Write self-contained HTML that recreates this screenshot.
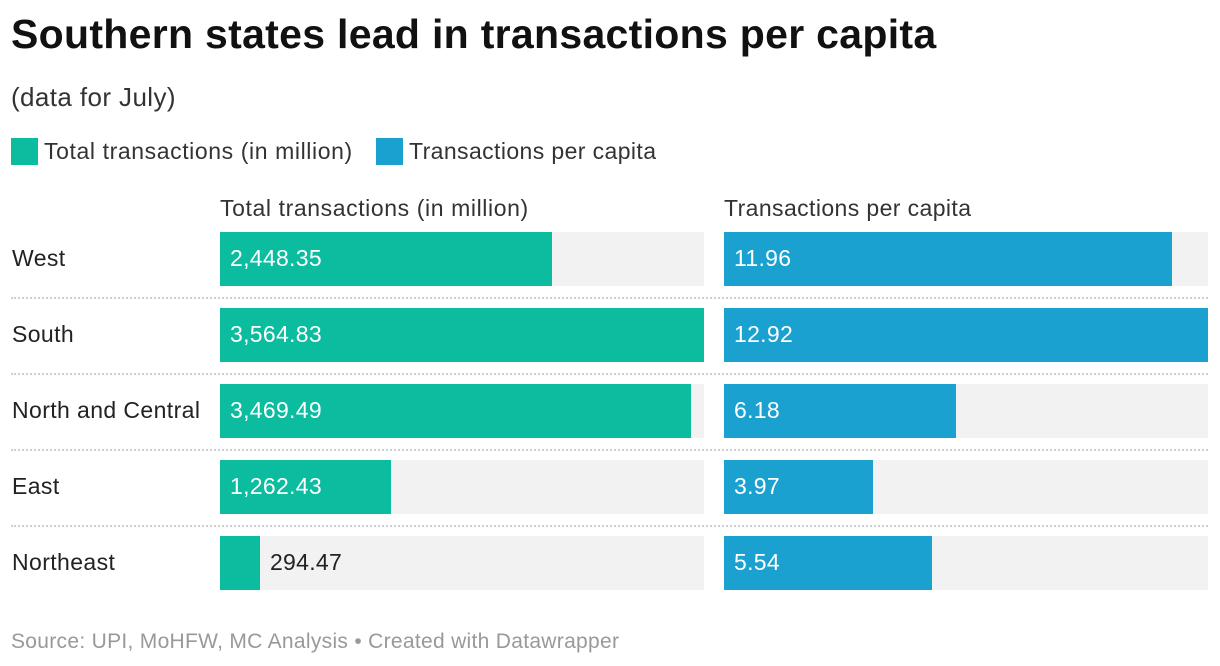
<!DOCTYPE html>
<html><head><meta charset="utf-8"><style>
body{margin:0;width:1220px;height:666px;background:#fff;font-family:"Liberation Sans",sans-serif;position:relative;overflow:hidden;color:#222}
.abs{position:absolute;white-space:nowrap}
</style></head><body>
<div class="abs" style="left:11px;top:11px;font-size:41px;font-weight:bold;color:#111;letter-spacing:0.3px">Southern states lead in transactions per capita</div>
<div class="abs" style="left:11px;top:82px;font-size:26px;color:#333;letter-spacing:0.4px">(data for July)</div>
<div class="abs" style="left:11px;top:138px;font-size:23px;color:#333;letter-spacing:0.6px"><span style="display:inline-block;width:27px;height:27px;background:#0bbc9f;vertical-align:-6px;margin-right:6px"></span>Total transactions (in million)</div>
<div class="abs" style="left:376px;top:138px;font-size:23px;color:#333;letter-spacing:0.4px"><span style="display:inline-block;width:27px;height:27px;background:#1ba1cf;vertical-align:-6px;margin-right:6px"></span>Transactions per capita</div>
<div class="abs" style="left:220px;top:195px;font-size:23px;color:#333;letter-spacing:0.6px">Total transactions (in million)</div>
<div class="abs" style="left:724px;top:195px;font-size:23px;color:#333;letter-spacing:0.4px">Transactions per capita</div>
<div id="rows"></div>
<div class="abs" style="left:11px;top:630px;font-size:21px;color:#999;letter-spacing:0.3px">Source: UPI, MoHFW, MC Analysis • Created with Datawrapper</div>
<script>
const categories=["West","South","North and Central","East","Northeast"];
const totals=[2448.35,3564.83,3469.49,1262.43,294.47];
const perCapita=[11.96,12.92,6.18,3.97,5.54];
const totalLabels=["2,448.35","3,564.83","3,469.49","1,262.43","294.47"];
const perCapitaLabels=["11.96","12.92","6.18","3.97","5.54"];
const root=document.getElementById('rows');
const W=484;
const xT=v=>v/Math.max(...totals)*W;
const xP=v=>v/Math.max(...perCapita)*W;
function mk(style,text){const d=document.createElement('div');d.className='abs';d.style.cssText=style;if(text!==undefined)d.textContent=text;root.appendChild(d);return d;}
categories.forEach((c,i)=>{
 const top=232+i*76;
 const lab=mk(`left:12px;top:${top+13}px;font-size:23px;color:#222;letter-spacing:0.4px`,c);
 
 
 if(i>0){const s=mk(`left:11px;top:${top-11}px;width:1197px;border-top:2px dotted #d0d0d0`);
 
 }
 [[220,xT(totals[i]),'#0bbc9f',totalLabels[i],'bar-total'],[724,xP(perCapita[i]),'#1ba1cf',perCapitaLabels[i],'bar-per-capita']].forEach(([x,w,col,t,n])=>{
  const tr=mk(`left:${x}px;top:${top}px;width:${W}px;height:54px;background:#f2f2f2`);
  
  
  const b=mk(`left:${x}px;top:${top}px;width:${w}px;height:54px;background:${col}`);
  
  
  const inside=w>90;
  const v=mk(`left:${inside?x+10:x+w+10}px;top:${top+13}px;font-size:23px;color:${inside?'#fff':'#222'};letter-spacing:0.3px`,t);
  
  
 });
});
</script>
</body></html>
